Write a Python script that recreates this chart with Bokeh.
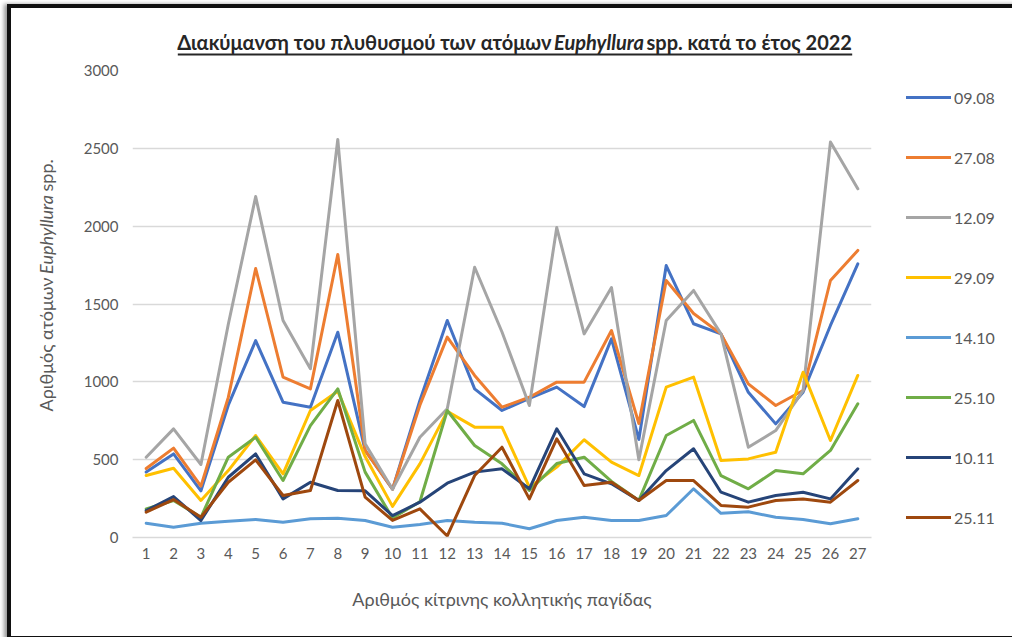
import math
from bokeh.plotting import figure
from bokeh.models import Range1d, FixedTicker, Legend, LegendItem, Label
from bokeh.embed import file_html
from bokeh.resources import INLINE

# ---------------- data ----------------
traps = list(range(1, 28))
y_ticks = [0, 500, 1000, 1500, 2000, 2500, 3000]
dates = ["09.08", "27.08", "12.09", "29.09", "14.10", "25.10", "10.11", "25.11"]
colors = ["#4472C4", "#ED7D31", "#A5A5A5", "#FFC000", "#5B9BD5", "#70AD47", "#264478", "#9E480E"]

s_0908 = [420, 537, 300, 850, 1265, 869, 837, 1319, 560, 310, 880, 1394, 955, 816, 893, 966, 841, 1276, 630, 1747, 1373, 1308, 933, 730, 933, 1362, 1758]
s_2708 = [443, 574, 330, 900, 1728, 1030, 955, 1818, 560, 310, 850, 1287, 1041, 837, 901, 998, 998, 1330, 732, 1651, 1439, 1308, 987, 848, 944, 1651, 1844]
s_1209 = [516, 698, 469, 1370, 2190, 1394, 1084, 2557, 602, 310, 644, 827, 1736, 1320, 848, 1991, 1308, 1606, 500, 1394, 1587, 1308, 580, 687, 944, 2540, 2240]
s_2909 = [398, 445, 238, 430, 655, 409, 816, 940, 520, 200, 473, 810, 709, 709, 323, 452, 628, 484, 398, 966, 1030, 495, 505, 548, 1062, 623, 1041]
s_1410 = [92, 66, 92, 105, 116, 98, 120, 124, 109, 66, 83, 109, 98, 92, 56, 109, 130, 109, 109, 141, 313, 155, 165, 130, 115, 88, 120]
s_2510 = [184, 238, 130, 516, 644, 366, 719, 955, 420, 125, 230, 816, 591, 473, 302, 475, 516, 360, 238, 655, 752, 398, 313, 430, 409, 559, 859]
s_1011 = [173, 263, 109, 387, 537, 248, 355, 302, 300, 140, 227, 349, 420, 441, 313, 698, 409, 345, 238, 430, 570, 291, 227, 270, 291, 248, 441]
s_2511 = [163, 244, 130, 355, 499, 270, 302, 880, 259, 110, 184, 10, 398, 580, 248, 634, 334, 355, 238, 366, 366, 206, 195, 238, 248, 227, 366]
series = [s_0908, s_2708, s_1209, s_2909, s_1410, s_2510, s_1011, s_2511]

title_parts = ["Διακύμανση του πλυθυσμού των ατόμων", "Euphyllura", "spp. κατά το έτος 2022"]
ylabel_parts = ["Αριθμός ατόμων", "Euphyllura", "spp."]
xlabel = "Αριθμός κίτρινης κολλητικής παγίδας"

FONT = "Lato"
TXT = "#595959"
TITLE_C = "#262626"

# ---------------- figure ----------------
p = figure(frame_width=739, frame_height=467,
           min_border_left=121, min_border_right=137, min_border_top=62, min_border_bottom=96,
           x_range=Range1d(0.5, 27.5), y_range=Range1d(0, 3000),
           output_backend="svg", toolbar_location=None, title=None)
p.styles = {"border": "4px solid #111111", "margin-left": "7px", "margin-top": "4px",
            "box-shadow": "-3px 0px 4px #9a9a9a"}
p.outline_line_color = None
p.background_fill_color = "white"
p.border_fill_color = "white"

p.xgrid.visible = False
p.ygrid.grid_line_color = "#D9D9D9"
p.ygrid.grid_line_width = 1.5
p.ygrid.ticker = FixedTicker(ticks=y_ticks)

p.xaxis.ticker = FixedTicker(ticks=traps)
p.yaxis.ticker = FixedTicker(ticks=y_ticks)
for ax in (p.xaxis[0], p.yaxis[0]):
    ax.major_tick_line_color = None
    ax.minor_tick_line_color = None
    ax.major_label_text_font = FONT
    ax.major_label_text_font_size = "15px"
    ax.major_label_text_color = TXT
p.yaxis.axis_line_color = None
p.xaxis.axis_line_color = "#D9D9D9"
p.xaxis.axis_line_width = 1.5
p.yaxis.major_label_standoff = 8
p.xaxis.major_label_standoff = 4
p.xaxis.axis_label = xlabel
p.xaxis.axis_label_text_font = FONT
p.xaxis.axis_label_text_font_size = "18px"
p.xaxis.axis_label_text_font_style = "normal"
p.xaxis.axis_label_text_color = TXT
p.xaxis.axis_label_standoff = 26

renderers = []
for vals, col in zip(series, colors):
    r = p.line(traps, vals, line_color=col, line_width=3, line_join="round", line_cap="round")
    renderers.append(r)

items = [LegendItem(label=d, renderers=[r]) for d, r in zip(dates, renderers)]
legend = Legend(items=items, location=(35, 10), margin=0, padding=0, spacing=40,
                glyph_width=45, glyph_height=20, label_height=20, label_standoff=3,
                label_text_font=FONT, label_text_font_size="16px", label_text_color=TXT,
                border_line_color=None, background_fill_alpha=0)
p.add_layout(legend, "right")

# page pixel -> data coordinates (frame on page: x 132..871, y 70..537)
def dx(px):
    return 0.5 + (px - 132.0) * 27.0 / 739.0

def dy(py):
    return (537.0 - py) * 3000.0 / 467.0

# title pieces (in side panels so that they are not clipped to the frame)
ty = dy(41)
p.add_layout(Label(x=dx(551), y=ty, text=title_parts[0],
                   text_align="right", text_baseline="middle",
                   text_font=FONT, text_font_size="20px", text_font_style="bold", text_color=TITLE_C), "above")
p.add_layout(Label(x=dx(646), y=ty, text=title_parts[2],
                   text_align="left", text_baseline="middle",
                   text_font=FONT, text_font_size="20px", text_font_style="bold", text_color=TITLE_C), "above")
# underline of the title: a thin filled label box (padding = left, right, top, bottom)
p.add_layout(Label(x=dx(514.5), y=dy(54), text=" ",
                   text_align="center", text_baseline="middle",
                   text_font=FONT, text_font_size="1.5px", text_color=TITLE_C,
                   background_fill_color=TITLE_C, padding=(337, 337, 0, 0)), "above")
p.add_layout(Label(x=dx(598.5), y=ty, text=title_parts[1],
                   text_align="center", text_baseline="middle",
                   text_font=FONT, text_font_size="20px", text_font_style="bold italic", text_color=TITLE_C), "below")

# y axis title pieces (rotated)
yx = dx(45)
ang = math.pi / 2
p.add_layout(Label(x=yx, y=dy(277), text=ylabel_parts[0], angle=ang,
                   text_align="right", text_baseline="middle",
                   text_font=FONT, text_font_size="18px", text_color=TXT), "left")
p.add_layout(Label(x=yx, y=dy(234), text=ylabel_parts[1], angle=ang,
                   text_align="center", text_baseline="middle",
                   text_font=FONT, text_font_size="18px", text_font_style="italic", text_color=TXT), "left")
p.add_layout(Label(x=yx, y=dy(191), text=ylabel_parts[2], angle=ang,
                   text_align="left", text_baseline="middle",
                   text_font=FONT, text_font_size="18px", text_color=TXT), "right")

open("out.html", "w").write(file_html(p, INLINE))
